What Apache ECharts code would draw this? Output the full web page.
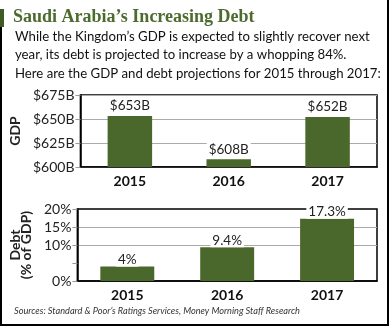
<!DOCTYPE html>
<html>
<head>
<meta charset="utf-8">
<script src="https://cdn.jsdelivr.net/npm/echarts@6/dist/echarts.min.js"></script>
<style>
html,body{margin:0;padding:0;background:#fff;}
#c{width:390px;height:327px;}
</style>
</head>
<body>
<div id="c"></div>
<script>
const years = ['2015', '2016', '2017'];
const gdpValues = [653, 608, 652];
const debtValues = [4, 9.4, 17.3];
const gdpTicks = { min: 600, max: 675, interval: 25 };
const debtTicks = { min: 0, max: 20, interval: 5 };
const titleText = 'Saudi Arabia\u2019s Increasing Debt';
const bodyLines = [
  'While the Kingdom\u2019s GDP is expected to slightly recover next',
  'year, its debt is projected to increase by a whopping 84%.',
  'Here are the GDP and debt projections for 2015 through 2017:'
];
const sourceText = 'Sources: Standard & Poor\u2019s Ratings Services, Money Morning Staff Research';

const green = '#4a682b';
const font = 'Lato, "Noto Sans", sans-serif';

const chart = echarts.init(document.getElementById('c'), null, {renderer: 'canvas'});

function yAxisCommon(extra) {
  return Object.assign({
    type: 'value',
    axisLine: {show: true, lineStyle: {color: '#000', width: 1.5}},
    axisTick: {show: true, length: 5, lineStyle: {color: '#999'}},
    nameLocation: 'middle',
    nameRotate: 90,
    nameTextStyle: {color: '#222', fontFamily: font, fontWeight: 'bold', fontSize: 14, lineHeight: 11}
  }, extra);
}
function xAxisCommon(gridIndex) {
  return {
    type: 'category', gridIndex: gridIndex, data: years,
    axisLine: {show: true, lineStyle: {color: '#000', width: 1.5}},
    axisTick: {show: false},
    axisLabel: {color: '#111', fontFamily: font, fontWeight: 'bold', fontSize: 14, margin: 7}
  };
}
const labelCommon = {
  show: true, position: 'top', distance: 3,
  color: '#222', fontFamily: font, fontSize: 13.5,
  backgroundColor: '#fff', padding: [0, 2]
};

chart.setOption({
  animation: false,
  grid: [
    {left: 71, top: 95, right: 13, height: 72, show: true, borderColor: '#000', borderWidth: 1.5},
    {left: 77, top: 209, right: 13, height: 72, show: true, borderColor: '#000', borderWidth: 1.5}
  ],
  xAxis: [xAxisCommon(0), xAxisCommon(1)],
  yAxis: [
    yAxisCommon({
      gridIndex: 0, min: gdpTicks.min, max: gdpTicks.max, interval: gdpTicks.interval,
      name: 'GDP', nameGap: 45,
      axisLabel: {color: '#222', fontFamily: font, fontSize: 14, margin: 6, formatter: v => '$' + v + 'B'},
      splitLine: {show: true, lineStyle: {color: '#aaa', width: 1}}
    }),
    yAxisCommon({
      gridIndex: 1, min: debtTicks.min, max: debtTicks.max, interval: debtTicks.interval,
      name: 'Debt\n(% of GDP)', nameGap: 31,
      axisLabel: {color: '#222', fontFamily: font, fontSize: 14, margin: 6,
        formatter: v => (v === 5 ? '' : v + '%')},
      axisTick: {show: true, length: 5, lineStyle: {color: ['#999', 'transparent', '#999', '#999', '#999']}},
      splitLine: {show: true, lineStyle: {color: ['transparent', 'transparent', '#aaa', '#aaa', 'transparent'], width: 1}}
    })
  ],
  series: [
    {type: 'bar', xAxisIndex: 0, yAxisIndex: 0, data: gdpValues, barWidth: '45%',
      itemStyle: {color: green},
      label: Object.assign({}, labelCommon, {formatter: p => '$' + p.value + 'B'})},
    {type: 'bar', xAxisIndex: 1, yAxisIndex: 1, data: debtValues, barWidth: '54%',
      itemStyle: {color: green},
      label: Object.assign({}, labelCommon, {distance: 0, formatter: p => p.value + '%'})}
  ],
  graphic: [
    {type: 'rect', left: 0, top: 9, shape: {width: 4, height: 18}, style: {fill: '#3f5a25'}},
    {type: 'line', shape: {x1: 1, y1: 27, x2: 1, y2: 325}, style: {stroke: '#000', lineWidth: 2}},
    {type: 'line', shape: {x1: 0, y1: 325, x2: 389, y2: 325}, style: {stroke: '#000', lineWidth: 2}},
    {type: 'line', shape: {x1: 388, y1: 0, x2: 388, y2: 326}, style: {stroke: '#000', lineWidth: 2}},
    {type: 'text', left: 13, top: 8, style: {text: titleText, fill: '#4c6b2e',
      font: 'bold 18px "Liberation Serif", "DejaVu Serif", serif'}},
    {type: 'text', left: 15, top: 27, style: {text: bodyLines.join('\n'), fill: '#111',
      font: '13.2px ' + font, lineHeight: 18.5}},
    {type: 'text', left: 14, top: 307, style: {text: sourceText, fill: '#333',
      font: 'italic 9.2px ' + font}}
  ]
});
</script>
</body>
</html>
